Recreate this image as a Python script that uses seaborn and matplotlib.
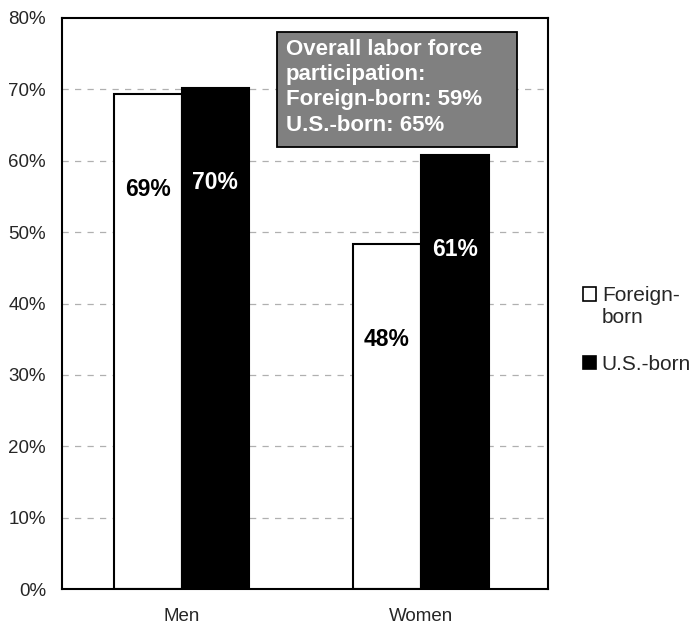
import matplotlib
matplotlib.use("Agg")
import matplotlib.pyplot as plt
import seaborn as sns
import pandas as pd
from matplotlib.patches import Patch, Rectangle
from matplotlib.legend_handler import HandlerPatch

# data
groups = ["Men", "Women"]
foreign_born = [69.3, 48.3]
us_born = [70.2, 60.8]
bar_labels_foreign = ["69%", "48%"]
bar_labels_us = ["70%", "61%"]
y_ticks = [0, 10, 20, 30, 40, 50, 60, 70, 80]
box_text = "Overall labor force\nparticipation:\nForeign-born: 59%\nU.S.-born: 65%"

df = pd.DataFrame({
    "group": groups * 2,
    "origin": ["Foreign-born"] * 2 + ["U.S.-born"] * 2,
    "value": foreign_born + us_born,
})

sns.set_style("white")
plt.rcParams["font.family"] = ["Liberation Sans", "DejaVu Sans"]

fig = plt.figure(figsize=(6.95, 6.25), dpi=100)
ax = fig.add_axes([0.089, 0.0576, 0.699, 0.9136])

sns.barplot(data=df, x="group", y="value", hue="origin",
            palette={"Foreign-born": "white", "U.S.-born": "black"},
            edgecolor="black", linewidth=1.5, width=0.567, gap=0,
            legend=False, ax=ax)

ax.set_ylim(0, 80)
ax.set_xlim(-0.5, 1.53)
ax.set_yticks(y_ticks)
ax.set_yticklabels([f"{t}%" for t in y_ticks], fontsize=13.5)
ax.tick_params(axis="x", labelsize=13.5, pad=10)
ax.tick_params(axis="y", pad=8)
ax.set_xlabel("")
ax.set_ylabel("")

for t in y_ticks[1:-1]:
    ax.axhline(t, color="#b0b0b0", lw=0.9, ls=(0, (5, 5)), zorder=0)

for sp in ax.spines.values():
    sp.set_color("black")
    sp.set_linewidth(1.5)

# value labels inside bars
for cont, labs, col in zip(ax.containers, [bar_labels_foreign, bar_labels_us],
                           ["black", "white"]):
    for bar, lab in zip(cont, labs):
        ax.text(bar.get_x() + bar.get_width() / 2, bar.get_height() - 13.3, lab,
                ha="center", va="center", fontsize=16.5, fontweight="bold",
                color=col)

# grey note box
ax.add_patch(Rectangle((0.442, 0.7735), 0.494, 0.2013, transform=ax.transAxes,
                       fc="#808080", ec="black", lw=1.3, zorder=5))
ax.text(0.461, 0.963, box_text, transform=ax.transAxes, ha="left", va="top",
        fontsize=16, fontweight="bold", color="white", linespacing=1.26,
        zorder=6)


# first legend entry has a two-line label; keep its box on the first line
def raised_box(legend, orig_handle, xdescent, ydescent, width, height, fontsize):
    return Rectangle((-xdescent, -ydescent + 0.62 * fontsize), width, height)


handles = [Patch(fc="white", ec="black", lw=1.2, label="Foreign-\nborn"),
           Patch(fc="black", ec="black", lw=1.2, label="U.S.-born")]
fig.legend(handles=handles, loc="center left", bbox_to_anchor=(0.839, 0.472),
           frameon=False, fontsize=15, handlelength=0.6, handleheight=0.6,
           handletextpad=0.3, labelspacing=1.33, borderpad=0, borderaxespad=0,
           handler_map={handles[0]: HandlerPatch(patch_func=raised_box)})

fig.savefig("out.png", dpi=100)
